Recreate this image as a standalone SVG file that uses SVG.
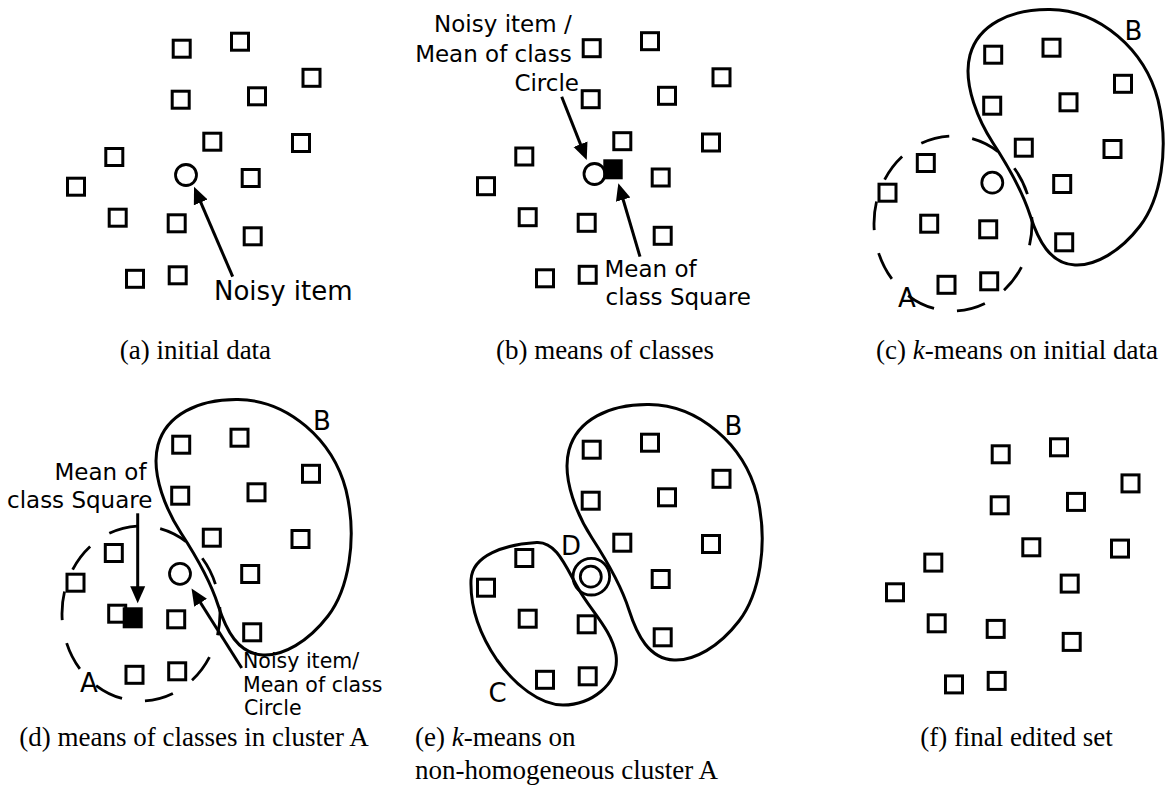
<svg xmlns="http://www.w3.org/2000/svg" xmlns:xlink="http://www.w3.org/1999/xlink" width="1169" height="801" viewBox="0 0 1169 801">
  <style>
    .sq{fill:none;stroke:#000;stroke-width:3}
    .pt{fill:none;stroke:#000;stroke-width:2.8}
    .mean{fill:#000;stroke:#000;stroke-width:2.8}
    .blob{fill:none;stroke:#000;stroke-width:3}
    .dash{fill:none;stroke:#000;stroke-width:2.8;stroke-dasharray:29 23.3;stroke-dashoffset:7}
    .arrow{fill:none;stroke:#000;stroke-width:3;marker-end:url(#ah)}
    .lbl{font-family:"DejaVu Sans",Verdana,sans-serif;fill:#000}
    .cap{font-family:"Liberation Serif","Times New Roman",serif;font-size:27px;fill:#000}
  </style>
  <defs>
    <marker id="ah" markerUnits="userSpaceOnUse" viewBox="0 0 18 16" markerWidth="18" markerHeight="16" refX="9" refY="8" orient="auto">
      <path d="M0,0.5 L17,8 L0,15.5 Z" fill="#000"/>
    </marker>
    <!-- the fifteen square-class items, laid out once and reused per panel -->
    <g id="cloud">
      <rect class="sq" x="173.2" y="40.2" width="17" height="17"/>
      <rect class="sq" x="231.5" y="33.2" width="17" height="17"/>
      <rect class="sq" x="303" y="69.3" width="17" height="17"/>
      <rect class="sq" x="172.2" y="91.2" width="17" height="17"/>
      <rect class="sq" x="248.5" y="87.8" width="17" height="17"/>
      <rect class="sq" x="203.8" y="133.2" width="17" height="17"/>
      <rect class="sq" x="292.5" y="134.5" width="17" height="17"/>
      <rect class="sq" x="105.8" y="148.5" width="17" height="17"/>
      <rect class="sq" x="67.5" y="178.2" width="17" height="17"/>
      <rect class="sq" x="242.2" y="169.5" width="17" height="17"/>
      <rect class="sq" x="109.2" y="209.2" width="17" height="17"/>
      <rect class="sq" x="168.2" y="214.8" width="17" height="17"/>
      <rect class="sq" x="244.2" y="227.8" width="17" height="17"/>
      <rect class="sq" x="126.5" y="270.3" width="17" height="17"/>
      <rect class="sq" x="169.2" y="266.8" width="17" height="17"/>
    </g>
    <!-- cluster B outline -->
    <path id="blobB" class="blob" d="M1050,9.5 C1100,10 1145,50 1158,100 C1170,150 1160,200 1140,226 C1120,252 1095,266 1075,265 C1050,264 1038,240 1030,215 C1023,193 1006,163 993,143 C980,123 962,85 970,55 C978,25 1010,9 1050,9.5 Z"/>
    <!-- cluster A outline (dashed) -->
    <ellipse id="clusterA" class="dash" cx="953" cy="223.5" rx="79" ry="87.5"/>
  </defs>

  <!-- (a) initial data -->
  <g id="panel-a">
    <use xlink:href="#cloud"/>
    <circle class="pt" cx="186" cy="175" r="10.5"/>
    <text class="lbl" x="214" y="300" font-size="26">Noisy item</text>
  </g>

  <!-- (b) means of classes -->
  <g id="panel-b">
    <use xlink:href="#cloud" transform="translate(410,-0.5)"/>
    <circle class="pt" cx="594.5" cy="174" r="10.5"/>
    <rect class="mean" x="604.7" y="160.7" width="16.6" height="17.2"/>
    <text class="lbl" font-size="23" text-anchor="end">
      <tspan x="579" y="32">Noisy item /</tspan>
      <tspan x="579" y="61.5">Mean of class</tspan>
      <tspan x="579" y="91">Circle</tspan>
    </text>
    <text class="lbl" font-size="23">
      <tspan x="604.5" y="276.7">Mean of</tspan>
      <tspan x="605.5" y="305">class Square</tspan>
    </text>
  </g>

  <!-- (c) k-means on initial data -->
  <g id="panel-c">
    <use xlink:href="#cloud" transform="translate(811.5,6)"/>
    <circle class="pt" cx="992.3" cy="182.7" r="10.5"/>
    <use xlink:href="#clusterA"/>
    <use xlink:href="#blobB"/>
    <text class="lbl" x="1124.5" y="40" font-size="26">B</text>
    <text class="lbl" x="898" y="307" font-size="26">A</text>
  </g>

  <!-- (d) means of classes in cluster A -->
  <g id="panel-d">
    <use xlink:href="#cloud" transform="translate(-0.5,396)"/>
    <circle class="pt" cx="180" cy="573.8" r="10.5"/>
    <rect class="mean" x="124.1" y="608.7" width="17.2" height="18.2"/>
    <use xlink:href="#clusterA" transform="translate(-812,390)"/>
    <use xlink:href="#blobB" transform="translate(-812,390)"/>
    <text class="lbl" x="313" y="430" font-size="26">B</text>
    <text class="lbl" x="80" y="691.7" font-size="26">A</text>
    <text class="lbl" font-size="23">
      <tspan x="54.4" y="480">Mean of</tspan>
      <tspan x="7" y="508">class Square</tspan>
    </text>
    <text class="lbl" font-size="20.5">
      <tspan x="243" y="668">Noisy item/</tspan>
      <tspan x="243" y="691.5">Mean of class</tspan>
      <tspan x="244" y="715">Circle</tspan>
    </text>
  </g>

  <!-- (e) k-means on non-homogeneous cluster A -->
  <g id="panel-e">
    <use xlink:href="#cloud" transform="translate(410,401)"/>
    <circle class="pt" cx="590.8" cy="576.7" r="10.5"/>
    <circle class="pt" cx="591.3" cy="576.7" r="18.3"/>
    <use xlink:href="#blobB" transform="translate(-401,395)"/>
    <path class="blob" d="M536.7,542.5 C556,541.5 565,565 578,588 C590,610 612,630 616,655 C620,685 590,705 563,705 C540,705 515,685 497,660 C480,635 470,610 471,580 C472,555 505,544.5 536.7,542.5 Z"/>
    <text class="lbl" x="724.5" y="435" font-size="26">B</text>
    <text class="lbl" x="488.6" y="701.7" font-size="26">C</text>
    <text class="lbl" x="561" y="555" font-size="26">D</text>
  </g>

  <!-- (f) final edited set -->
  <g id="panel-f">
    <use xlink:href="#cloud" transform="translate(819,405.6)"/>
  </g>

  <!-- pointer arrows -->
  <g id="connectors">
    <line class="arrow" x1="232.7" y1="276.7" x2="197.2" y2="194.1"/>
    <line class="arrow" x1="561.7" y1="96.7" x2="583.8" y2="152.6"/>
    <line class="arrow" x1="640" y1="256.7" x2="620.6" y2="191"/>
    <line class="arrow" x1="137.7" y1="513.3" x2="137.7" y2="595.3"/>
    <line class="arrow" x1="241.7" y1="668" x2="195.8" y2="595.2"/>
  </g>

  <!-- sub-figure captions -->
  <g id="captions">
    <text class="cap" x="195.4" y="359" text-anchor="middle">(a) initial data</text>
    <text class="cap" x="605" y="359" text-anchor="middle">(b) means of classes</text>
    <text class="cap" x="1017" y="359" text-anchor="middle">(c) <tspan font-style="italic">k</tspan>-means on initial data</text>
    <text class="cap" x="194" y="746" text-anchor="middle">(d) means of classes in cluster A</text>
    <text class="cap" x="415" y="746">(e) <tspan font-style="italic">k</tspan>-means on</text>
    <text class="cap" x="415" y="779">non-homogeneous cluster A</text>
    <text class="cap" x="1016.5" y="746" text-anchor="middle">(f) final edited set</text>
  </g>
</svg>
